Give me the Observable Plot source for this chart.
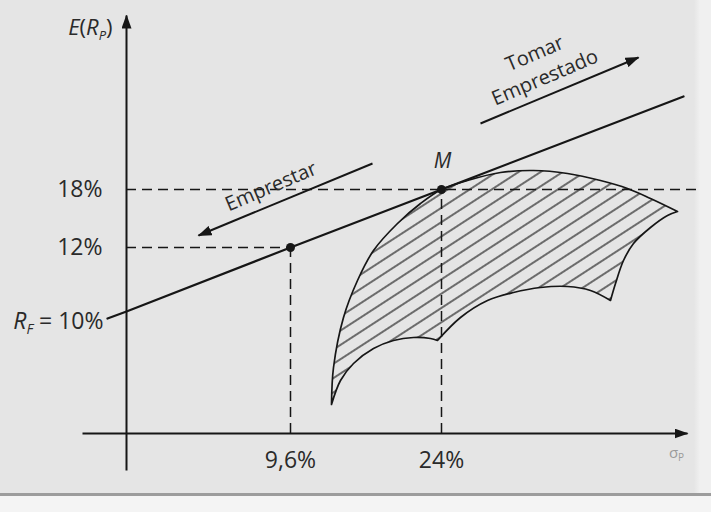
<!DOCTYPE html>
<html>
<head>
<meta charset="utf-8">
<script src="https://cdn.jsdelivr.net/npm/d3@7"></script>
<script src="https://cdn.jsdelivr.net/npm/@observablehq/plot@0.6"></script>
<style>
  html, body { margin: 0; padding: 0; background: #f3f3f3; }
</style>
</head>
<body>
<div id="chart"></div>
<script>
// Schematic diagram units (not to scale): u = risk axis (σp), v = expected return axis E(Rp)
const axisU = [-4.4, 56.1];          // extent of the σ axis
const axisV = [-3.7, 41.8];          // extent of the E(R) axis
const riskFree = 12.2;               // R_F on the return axis
const yTickPos = [24.4, 18.6];
const yTickLabels = ["18%", "12%"];
const xTickPos = [16.4, 31.5];
const xTickLabels = ["9,6%", "24%"];

// Capital market line
const cmlU = [-1.9, 0, 16.4, 31.5, 55.7];
const cmlV = [11.5, 12.2, 18.6, 24.4, 33.7];

// Marked portfolios: lending point and market portfolio M
const portU = [16.4, 31.5];
const portV = [18.6, 24.4];

// Direction arrows
const arrowNames = ["Emprestar", "Tomar\nEmprestado"];
const arrowFromU = [24.6, 35.4];
const arrowFromV = [27.0, 31.0];
const arrowToU = [7.2, 51.2];
const arrowToV = [19.8, 37.6];

// Feasible set boundary (closed, corners repeated)
const regionU = [20.5, 20.5, 20.7, 21.7, 23.1, 24.7, 27.1, 29.4, 31.5, 34.1, 37.4, 40.7, 44.1, 47.4, 50.1, 52.4, 55.1, 55.1,
                 54.1, 52.4, 50.7, 49.7, 48.9, 48.4, 48.4,
                 46.4, 44.1, 41.4, 38.7, 36.1, 33.4, 31.1, 31.1,
                 30.4, 28.7, 26.7, 24.7, 22.7, 21.4, 20.5, 20.5];
const regionV = [2.9, 2.9, 6.6, 11.6, 15.3, 18.3, 21.0, 23.0, 24.4, 25.3, 26.1, 26.3, 26.0, 25.3, 24.5, 23.5, 22.2, 22.2,
                 21.8, 20.6, 19.0, 17.3, 15.0, 13.3, 13.3,
                 14.3, 14.7, 14.6, 14.1, 13.3, 11.6, 9.3, 9.3,
                 9.5, 9.6, 9.3, 8.5, 7.0, 5.3, 2.9, 2.9];

const region = regionU.map((u, i) => ({u, v: regionV[i]}));
const cml = cmlU.map((u, i) => ({u, v: cmlV[i]}));
const ports = portU.map((u, i) => ({u, v: portV[i]}));
const arrows = arrowNames.map((name, i) => ({
  name, u1: arrowFromU[i], v1: arrowFromV[i], u2: arrowToU[i], v2: arrowToV[i],
  mu: (arrowFromU[i] + arrowToU[i]) / 2, mv: (arrowFromV[i] + arrowToV[i]) / 2
}));
const axes = [
  {u1: axisU[0], v1: 0, u2: axisU[1], v2: 0},
  {u1: 0, v1: axisV[0], u2: 0, v2: axisV[1]}
];
const hGuides = [
  {v: yTickPos[0], u1: 0, u2: 57.0},
  {v: yTickPos[1], u1: 0, u2: xTickPos[0]}
];
const vGuides = [
  {u: xTickPos[0], v1: 0, v2: yTickPos[1]},
  {u: xTickPos[1], v1: 0, v2: yTickPos[0]}
];

const FONT = "Open Sans";
const INK = "#161616";
const TXT = "#2a2a2a";

const chart = Plot.plot({
  width: 711,
  height: 512,
  margin: 0,
  x: {domain: [-12.6, 58.5], axis: null},
  y: {domain: [-7.9, 43.3], axis: null},
  style: {
    background: "linear-gradient(to bottom, transparent 0 493px, #9c9c9c 493px 496px, #f4f4f4 496px), linear-gradient(to right, #e5e5e5 0 694px, #f0f0f0 700px)",
    fontFamily: FONT
  },
  marks: [
    // feasible set
    Plot.line(region, {x: "u", y: "v", curve: "catmull-rom", fill: "url(#hatch)", stroke: INK, strokeWidth: 1.7}),
    // dashed guides
    Plot.ruleY(hGuides, {y: "v", x1: "u1", x2: "u2", stroke: INK, strokeWidth: 1.5, strokeDasharray: "10,6"}),
    Plot.ruleX(vGuides, {x: "u", y1: "v1", y2: "v2", stroke: INK, strokeWidth: 1.5, strokeDasharray: "10,6"}),
    // axes (arrows)
    Plot.link(axes, {x1: "u1", y1: "v1", x2: "u2", y2: "v2", stroke: INK, strokeWidth: 2}),
    // capital market line
    Plot.line(cml, {x: "u", y: "v", stroke: INK, strokeWidth: 2.2}),
    // direction arrows
    Plot.link(arrows, {x1: "u1", y1: "v1", x2: "u2", y2: "v2", stroke: INK, strokeWidth: 2}),
    Plot.text(arrows, {x: "mu", y: "mv", text: "name", dx: -12, dy: -7, rotate: -23, lineAnchor: "bottom",
      textAnchor: "middle", fontSize: 20, lineHeight: 1.3, fill: TXT, fontFamily: FONT}),
    // portfolios
    Plot.dot(ports, {x: "u", y: "v", r: 4.5, fill: INK}),
    Plot.text([ports[1]], {x: "u", y: "v", text: () => "M", dx: 1, dy: -22, lineAnchor: "bottom",
      fontSize: 21, fontStyle: "italic", fill: TXT, fontFamily: FONT}),
    // tick labels
    Plot.text(xTickPos, {x: d => d, y: () => 0, text: (d, i) => xTickLabels[i], dy: 34, lineAnchor: "bottom",
      fontSize: 23, fill: TXT, fontFamily: FONT}),
    Plot.text(yTickPos, {x: () => 0, y: d => d, text: (d, i) => yTickLabels[i], dx: -24, textAnchor: "end",
      lineAnchor: "middle", fontSize: 23, fill: TXT, fontFamily: FONT}),
    Plot.text([riskFree], {x: () => 0, y: d => d, text: () => "RF = 10%", dx: -23, dy: 10, textAnchor: "end",
      lineAnchor: "middle", fontSize: 23, fill: TXT, fontFamily: FONT}),
    // axis titles
    Plot.text([axisV[1]], {x: () => 0, y: d => d, text: () => "E(RP)", dx: -14, dy: 19, textAnchor: "end",
      lineAnchor: "bottom", fontSize: 22, fill: TXT, fontFamily: FONT}),
    Plot.text([axisU[1]], {x: d => d, y: () => 0, text: () => "σP", dx: -11, dy: 24, textAnchor: "middle",
      lineAnchor: "bottom", fontSize: 15, fill: "#9a9a9a", fontFamily: FONT})
  ]
});

document.getElementById("chart").appendChild(chart);

// defs: hatch pattern and solid arrowhead
const svg = d3.select(chart);
const defs = svg.insert("defs", ":first-child");
const pat = defs.append("pattern").attr("id", "hatch").attr("patternUnits", "userSpaceOnUse")
  .attr("width", 12).attr("height", 12).attr("patternTransform", "rotate(-33)");
pat.append("line").attr("x1", -1).attr("y1", 6).attr("x2", 13).attr("y2", 6)
  .attr("stroke", "#222").attr("stroke-width", 1.25);
const mk = defs.append("marker").attr("id", "head").attr("markerUnits", "userSpaceOnUse")
  .attr("viewBox", "0 0 14 10").attr("markerWidth", 14).attr("markerHeight", 10)
  .attr("refX", 13).attr("refY", 5).attr("orient", "auto");
mk.append("path").attr("d", "M0,0L14,5L0,10Z").attr("fill", INK);
svg.selectAll('g[aria-label="link"] path').attr("marker-end", "url(#head)");

// rich labels (italics and subscripts)
const rich = {
  "RF = 10%": '<tspan font-style="italic">R</tspan><tspan font-style="italic" font-size="14" dy="5">F</tspan><tspan dy="-5"> = 10%</tspan>',
  "E(RP)": '<tspan font-style="italic">E</tspan>(<tspan font-style="italic">R</tspan><tspan font-style="italic" font-size="13" dy="5">P</tspan><tspan dy="-5">)</tspan>',
  "σP": 'σ<tspan font-size="10" dy="3">P</tspan>'
};
svg.selectAll("text").each(function() {
  const t = this.textContent;
  if (rich[t]) this.innerHTML = rich[t];
});
</script>
</body>
</html>
